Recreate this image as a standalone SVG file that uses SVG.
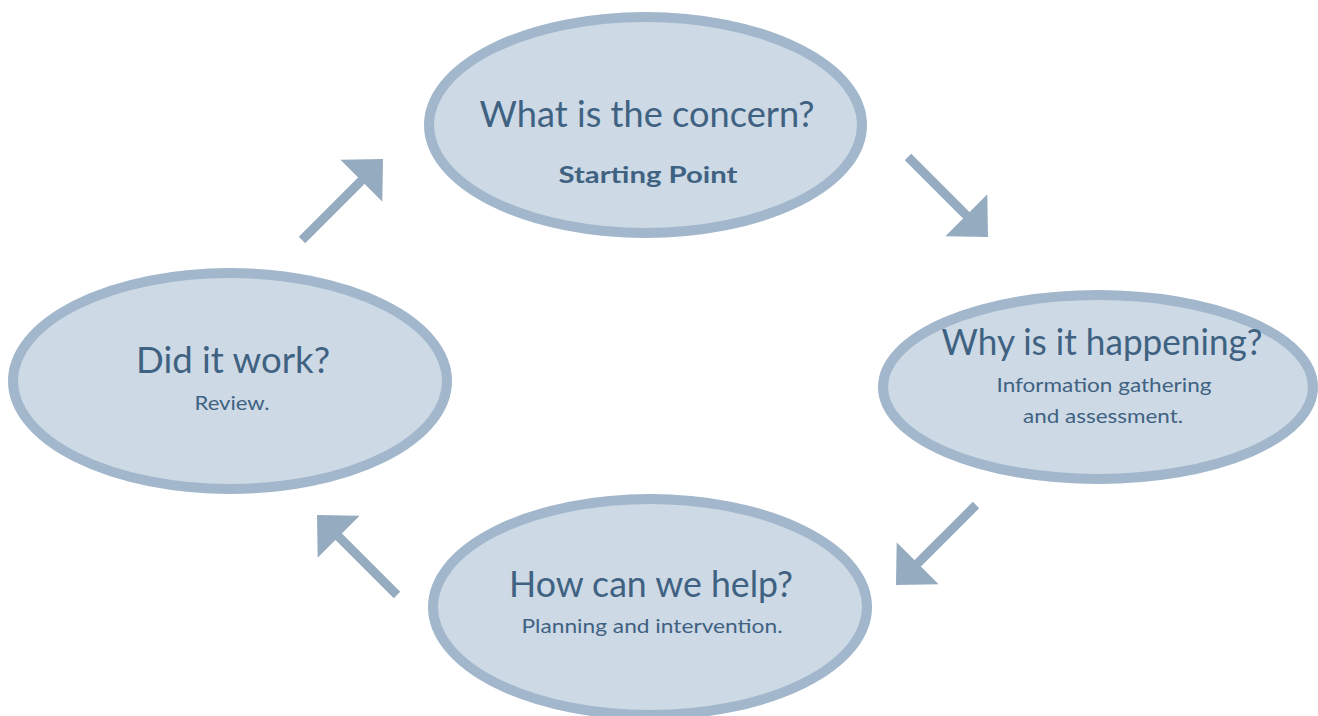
<svg xmlns="http://www.w3.org/2000/svg" width="1318" height="716" viewBox="0 0 1318 716">
<defs>
<marker id="head" markerUnits="userSpaceOnUse" markerWidth="32" markerHeight="60" viewBox="-1 -30 32 60" refX="0" refY="0" orient="auto">
<path d="M-1,-29.7 L29.7,0 L-1,29.7 Z" fill="#94abc0"/>
</marker>
<style>
.node ellipse{fill:#cdd9e5;stroke:#a2b7cb;stroke-width:10}
.t{font-family:"Lato","Open Sans",sans-serif;fill:#3f6282;text-anchor:middle}
.main{font-size:36px}
.sub{font-size:20px}
.bold{font-size:22px;font-weight:bold}
.arr{stroke:#94abc0;stroke-width:9;fill:none;marker-end:url(#head)}
</style>
</defs>
<rect width="1318" height="716" fill="#ffffff"/>
<g id="connectors">
<line class="arr" x1="302" y1="240" x2="362" y2="180"/>
<line class="arr" x1="908" y1="157" x2="967" y2="216"/>
<line class="arr" x1="976" y1="505" x2="917" y2="564"/>
<line class="arr" x1="397" y1="595" x2="338" y2="536"/>
</g>
<g id="node-concern" class="node">
<ellipse cx="645.5" cy="125" rx="216.5" ry="108"/>
<text class="t main" x="647" y="127" textLength="335" lengthAdjust="spacingAndGlyphs">What is the concern?</text>
<text class="t bold" x="648" y="183" textLength="179" lengthAdjust="spacingAndGlyphs">Starting Point</text>
</g>
<g id="node-why" class="node">
<ellipse cx="1098" cy="387" rx="215" ry="92"/>
<text class="t main" x="1102" y="355" textLength="321" lengthAdjust="spacingAndGlyphs">Why is it happening?</text>
<text class="t sub" x="1104" y="392" textLength="215" lengthAdjust="spacingAndGlyphs">Information gathering</text>
<text class="t sub" x="1103" y="423" textLength="160" lengthAdjust="spacingAndGlyphs">and assessment.</text>
</g>
<g id="node-help" class="node">
<ellipse cx="650" cy="607" rx="217" ry="108"/>
<text class="t main" x="651" y="597" textLength="284" lengthAdjust="spacingAndGlyphs">How can we help?</text>
<text class="t sub" x="652" y="633" textLength="261" lengthAdjust="spacingAndGlyphs">Planning and intervention.</text>
</g>
<g id="node-review" class="node">
<ellipse cx="230" cy="381" rx="217" ry="108"/>
<text class="t main" x="233" y="373" textLength="194" lengthAdjust="spacingAndGlyphs">Did it work?</text>
<text class="t sub" x="232" y="410" textLength="75" lengthAdjust="spacingAndGlyphs">Review.</text>
</g>
</svg>
